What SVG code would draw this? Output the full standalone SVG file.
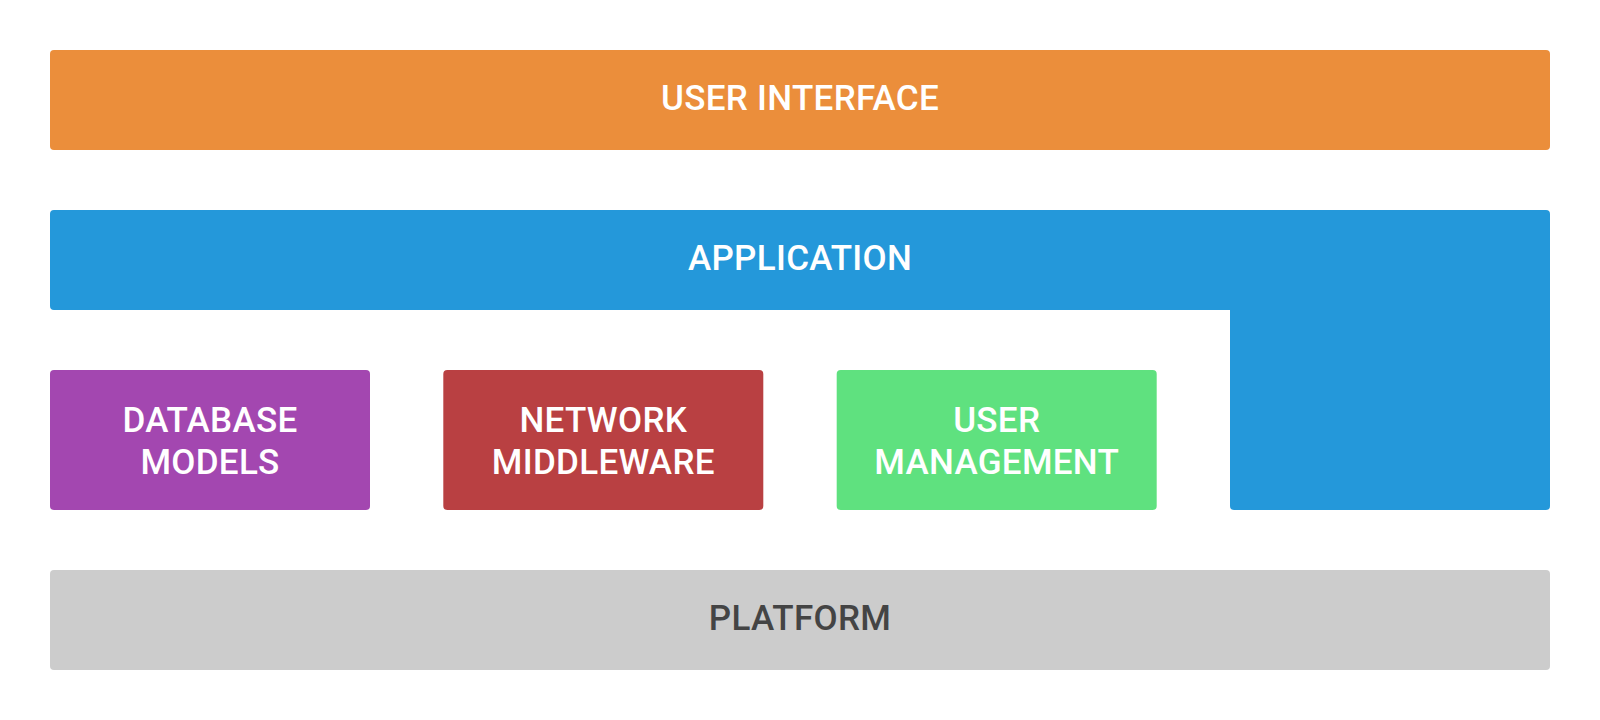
<svg xmlns="http://www.w3.org/2000/svg" width="1600" height="720" viewBox="0 0 1600 720">
<style>
  .lbl { font-family: Roboto, "Liberation Sans", sans-serif; font-size: 35px; font-weight: 500; letter-spacing: 0.3px; fill: #ffffff; text-anchor: middle; }
  .dark { fill: #444444; }
</style>
<rect width="1600" height="720" fill="#ffffff"/>
<g id="user-interface">
  <rect x="50" y="50" width="1500" height="100" rx="4" fill="#EB8E3B"/>
  <text class="lbl" x="800" y="110">USER INTERFACE</text>
</g>
<g id="application">
  <path d="M54 210 H1546 Q1550 210 1550 214 V506 Q1550 510 1546 510 H1234 Q1230 510 1230 506 V310 H54 Q50 310 50 306 V214 Q50 210 54 210 Z" fill="#2498DA"/>
  <text class="lbl" x="800" y="270">APPLICATION</text>
</g>
<g id="database-models">
  <rect x="50" y="370" width="320" height="140" rx="4" fill="#A347B0"/>
  <text class="lbl" x="210" y="431.5">DATABASE</text>
  <text class="lbl" x="210" y="474">MODELS</text>
</g>
<g id="network-middleware">
  <rect x="443.3" y="370" width="320" height="140" rx="4" fill="#B94042"/>
  <text class="lbl" x="603.3" y="431.5">NETWORK</text>
  <text class="lbl" x="603.3" y="474">MIDDLEWARE</text>
</g>
<g id="user-management">
  <rect x="836.7" y="370" width="320" height="140" rx="4" fill="#5FE17F"/>
  <text class="lbl" x="996.7" y="431.5">USER</text>
  <text class="lbl" x="996.7" y="474">MANAGEMENT</text>
</g>
<g id="platform">
  <rect x="50" y="570" width="1500" height="100" rx="4" fill="#CCCCCC"/>
  <text class="lbl dark" x="800" y="630">PLATFORM</text>
</g>
<g id="connectors"></g>
</svg>
